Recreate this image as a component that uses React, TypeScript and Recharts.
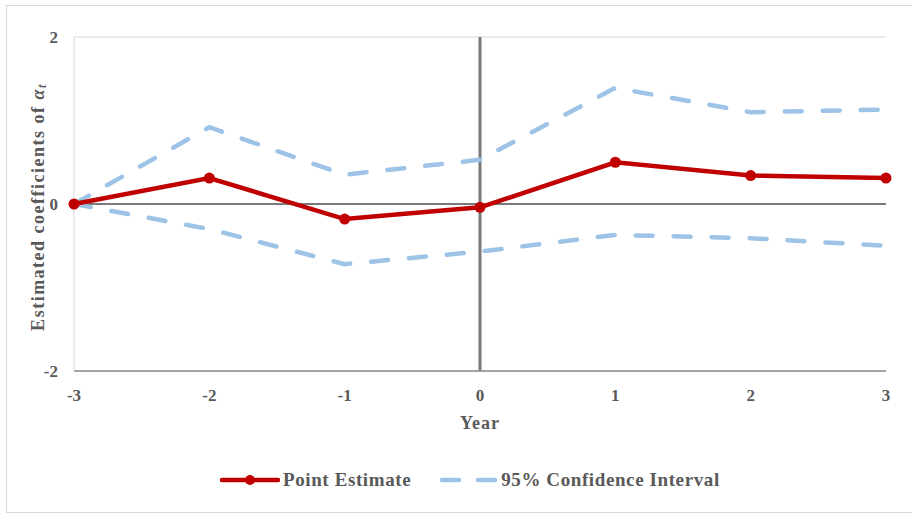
import { LineChart, Line, XAxis, YAxis, CartesianGrid, ReferenceLine, Label } from 'recharts';

const years = [-3, -2, -1, 0, 1, 2, 3];
const pointEstimate = [0, 0.31, -0.18, -0.04, 0.5, 0.34, 0.31];
const upperCI = [0, 0.92, 0.35, 0.53, 1.39, 1.1, 1.13];
const lowerCI = [0, -0.3, -0.72, -0.57, -0.37, -0.41, -0.5];
const yTicks = [-2, 0, 2];

const RED = '#C00000';
const BLUE = '#9DC3E6';
const TEXT = '#595959';
const FONT = '"Liberation Serif", "Times New Roman", serif';

const data = years.map((year, i) => ({
  year,
  point: pointEstimate[i],
  upper: upperCI[i],
  lower: lowerCI[i],
}));

const tickStyle = { fill: TEXT, fontSize: 17, fontWeight: 700, fontFamily: FONT };

function YLabel() {
  return (
    <text
      x={38}
      y={207}
      transform="rotate(-90 38 207)"
      textAnchor="middle"
      dominantBaseline="central"
      fill={TEXT}
      fontSize={18}
      fontWeight={700}
      fontFamily={FONT}
      letterSpacing={1.5}
    >
      Estimated coefficients of <tspan fontStyle="italic">α</tspan>
      <tspan fontStyle="italic" fontSize={12} dy={4}>t</tspan>
    </text>
  );
}

function ChartLegend() {
  const textStyle = { color: TEXT, fontSize: 19, fontWeight: 700, fontFamily: FONT, letterSpacing: 0.6 };
  return (
    <div style={{ display: 'flex', alignItems: 'center', paddingLeft: 220 }}>
      <svg width={60} height={12}>
        <line x1={2} y1={6} x2={58} y2={6} stroke={RED} strokeWidth={4.5} strokeLinecap="round" />
        <circle cx={30} cy={6} r={5} fill={RED} />
      </svg>
      <span style={{ ...textStyle, marginLeft: 3 }}>Point Estimate</span>
      <svg width={60} height={12} style={{ marginLeft: 27 }}>
        <line x1={4} y1={6} x2={58} y2={6} stroke={BLUE} strokeWidth={4.5} strokeLinecap="round" strokeDasharray="17 19" />
      </svg>
      <span style={{ ...textStyle, marginLeft: 3 }}>95% Confidence Interval</span>
    </div>
  );
}

export default function App() {
  return (
    <div style={{ position: 'absolute', left: 0, top: 0, width: 912, height: 513, background: '#fff', overflow: 'hidden' }}>
      <div style={{ position: 'absolute', left: 6, top: 5, width: 912, height: 506, border: '1px solid #d9d9d9' }} />
      <div style={{ position: 'absolute', left: 0, top: 0 }}>
        <LineChart width={912} height={513} data={data} margin={{ top: 37, right: 26, left: 0, bottom: 102 }}>
          <CartesianGrid vertical={false} stroke="#d9d9d9" strokeWidth={1} />
          <XAxis
            dataKey="year"
            type="number"
            domain={[-3, 3]}
            ticks={years}
            tick={tickStyle}
            tickLine={false}
            tickMargin={12}
            axisLine={{ stroke: '#8c8c8c', strokeWidth: 1.5 }}
            height={40}
          >
            <Label
              value="Year"
              position="bottom"
              offset={5}
              fill={TEXT}
              fontSize={18}
              fontWeight={700}
              fontFamily={FONT}
              letterSpacing={1}
            />
          </XAxis>
          <YAxis
            type="number"
            domain={[-2, 2]}
            ticks={yTicks}
            tick={tickStyle}
            tickLine={false}
            tickMargin={10}
            axisLine={{ stroke: '#d9d9d9', strokeWidth: 1 }}
            width={74}
            label={<YLabel />}
          />
          <ReferenceLine y={0} stroke="#7a7a7a" strokeWidth={2.2} />
          <ReferenceLine x={0} stroke="#7a7a7a" strokeWidth={3} />
          <Line
            dataKey="upper"
            stroke={BLUE}
            strokeWidth={4.5}
            strokeDasharray="17 21"
            strokeLinecap="round"
            dot={false}
            isAnimationActive={false}
          />
          <Line
            dataKey="lower"
            stroke={BLUE}
            strokeWidth={4.5}
            strokeDasharray="17 21"
            strokeLinecap="round"
            dot={false}
            isAnimationActive={false}
          />
          <Line
            dataKey="point"
            stroke={RED}
            strokeWidth={4.5}
            dot={{ r: 5.5, fill: RED, stroke: RED, strokeWidth: 0 }}
            isAnimationActive={false}
          />
        </LineChart>
      </div>
      <div style={{ position: 'absolute', left: 0, top: 469 }}>
        <ChartLegend />
      </div>
    </div>
  );
}
